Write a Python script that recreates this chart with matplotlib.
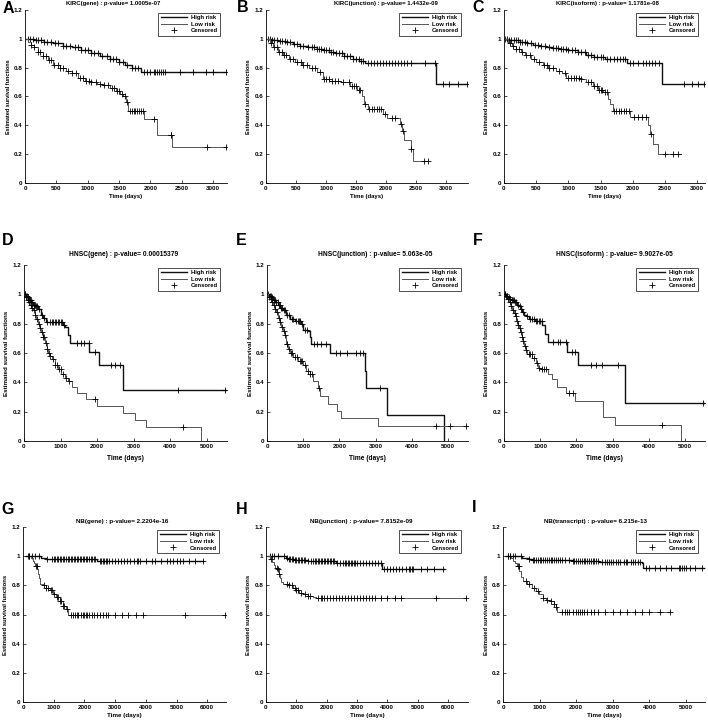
import numpy as np
import matplotlib
matplotlib.use("Agg")
import matplotlib.pyplot as plt
from matplotlib.lines import Line2D

plt.rcParams['font.family'] = ['Liberation Sans', 'DejaVu Sans']
plt.rcParams['font.weight'] = 'bold'

W, H = 708, 724

# ---- panel A : KIRC(gene) ----
A_up_t = [0, 150, 300, 450, 600, 750, 900, 1050, 1200, 1350, 1500, 1600, 1700, 1850]
A_up_s = [1.0, 0.99, 0.98, 0.97, 0.95, 0.94, 0.92, 0.90, 0.88, 0.86, 0.84, 0.82, 0.80, 0.77]
A_up_end = 3220
A_up_c = [40, 80, 120, 170, 210, 260, 300, 350, 420, 480, 520, 600, 660, 720, 800, 850, 900, 960,
          1000, 1050, 1100, 1160, 1220, 1300, 1350, 1400, 1450, 1500, 1560, 1620, 1700, 1750, 1800,
          1890, 1950, 2000, 2050, 2080, 2110, 2140, 2170, 2200, 2230, 2470, 2680, 2890, 3000, 3200]
A_lo_t = [0, 50, 100, 150, 200, 280, 360, 450, 550, 650, 750, 850, 950, 1050, 1150, 1250, 1350,
          1450, 1520, 1570, 1610, 1640, 1900, 2100, 2340]
A_lo_s = [1.0, 0.98, 0.96, 0.94, 0.91, 0.88, 0.85, 0.82, 0.80, 0.78, 0.76, 0.73, 0.71, 0.70, 0.69,
          0.68, 0.66, 0.64, 0.62, 0.60, 0.56, 0.50, 0.445, 0.335, 0.25]
A_lo_end = 3220
A_lo_c = [100, 150, 200, 240, 280, 330, 380, 420, 470, 520, 560, 600, 680, 750, 820, 880, 930, 980,
          1020, 1060, 1130, 1200, 1260, 1320, 1380, 1420, 1470, 1500, 1540, 1590, 1620, 1670, 1700,
          1730, 1760, 1790, 1820, 1850, 1880, 2050, 2320, 2330, 2900, 3200]

# ---- panel B : KIRC(junction) ----
B_up_t = [0, 80, 200, 320, 450, 560, 700, 850, 950, 1050, 1150, 1300, 1450, 1550, 1650, 2830]
B_up_s = [1.0, 0.99, 0.985, 0.98, 0.965, 0.95, 0.94, 0.93, 0.92, 0.91, 0.90, 0.88, 0.86, 0.845, 0.83, 0.69]
B_up_end = 3360
B_up_c = [30, 60, 100, 140, 180, 230, 270, 310, 350, 400, 460, 520, 560, 620, 700, 760, 800, 850,
          880, 920, 960, 1000, 1040, 1080, 1120, 1160, 1220, 1260, 1300, 1350, 1400, 1450, 1500,
          1540, 1580, 1620, 1700, 1750, 1800, 1850, 1900, 1950, 2000, 2050, 2100, 2150, 2200, 2250,
          2300, 2350, 2420, 2640, 2810, 2950, 3050, 3200, 3340]
B_lo_t = [0, 60, 120, 200, 280, 380, 480, 600, 720, 850, 950, 1050, 1250, 1400, 1520, 1590, 1630,
          1700, 1940, 2010, 2230, 2260, 2300, 2410, 2450]
B_lo_s = [1.0, 0.97, 0.94, 0.91, 0.89, 0.86, 0.84, 0.82, 0.80, 0.77, 0.72, 0.71, 0.70, 0.67, 0.645,
          0.60, 0.55, 0.51, 0.48, 0.45, 0.41, 0.36, 0.30, 0.235, 0.155]
B_lo_end = 2700
B_lo_c = [80, 130, 180, 220, 260, 300, 340, 400, 450, 520, 580, 620, 680, 760, 820, 900, 960, 1000,
          1040, 1100, 1150, 1200, 1280, 1380, 1430, 1470, 1500, 1540, 1560, 1640, 1720, 1760, 1800,
          1850, 1880, 1920, 1980, 2100, 2150, 2250, 2280, 2420, 2630, 2700]

# ---- panel C : KIRC(isoform) ----
C_up_t = [0, 60, 150, 250, 350, 450, 550, 650, 750, 850, 1000, 1150, 1280, 1400, 1560, 1910, 2450]
C_up_s = [1.0, 0.995, 0.99, 0.98, 0.97, 0.96, 0.95, 0.945, 0.935, 0.93, 0.92, 0.91, 0.89, 0.875,
          0.86, 0.83, 0.69]
C_up_end = 3120
C_up_c = [20, 50, 80, 110, 150, 180, 210, 250, 280, 320, 360, 420, 480, 520, 580, 640, 700, 760,
          800, 840, 880, 920, 960, 1000, 1050, 1100, 1150, 1200, 1260, 1300, 1350, 1400, 1450, 1500,
          1540, 1600, 1650, 1700, 1750, 1800, 1840, 1880, 1950, 2000, 2080, 2150, 2200, 2250, 2300,
          2350, 2400, 2800, 2920, 3010, 3100]
C_lo_t = [0, 60, 120, 180, 260, 330, 420, 500, 600, 690, 800, 900, 970, 1200, 1280, 1380, 1460,
          1540, 1610, 1640, 1690, 1950, 2230, 2270, 2310, 2395]
C_lo_s = [1.0, 0.97, 0.95, 0.93, 0.91, 0.89, 0.86, 0.84, 0.82, 0.80, 0.78, 0.76, 0.725, 0.72, 0.70,
          0.67, 0.645, 0.63, 0.58, 0.55, 0.50, 0.46, 0.40, 0.34, 0.27, 0.20]
C_lo_end = 2740
C_lo_c = [90, 140, 190, 230, 280, 340, 400, 460, 540, 620, 660, 700, 760, 850, 950, 1000, 1040,
          1080, 1120, 1160, 1200, 1300, 1350, 1400, 1440, 1480, 1500, 1520, 1560, 1600, 1700, 1740,
          1780, 1820, 1860, 1900, 1940, 2020, 2080, 2140, 2200, 2280, 2500, 2620, 2700]

# ---- panel D : HNSC(gene) ----
D_up_t = [0, 50, 100, 150, 200, 250, 300, 380, 470, 520, 610, 1060, 1120, 1190, 1250, 1780, 2060, 2700]
D_up_s = [1.0, 0.99, 0.98, 0.96, 0.95, 0.93, 0.92, 0.90, 0.86, 0.84, 0.81, 0.79, 0.78, 0.72, 0.67,
          0.605, 0.515, 0.345]
D_up_end = 5530
D_up_c = [30, 60, 90, 120, 160, 190, 220, 260, 290, 330, 360, 420, 480, 540, 640, 700, 760, 800,
          840, 880, 920, 960, 1000, 1040, 1080, 1450, 1550, 1650, 1770, 1950, 2380, 2500, 2620, 4200, 5500]
D_lo_t = [0, 40, 80, 120, 160, 200, 250, 300, 340, 380, 430, 470, 520, 570, 620, 660, 710, 760, 840,
          930, 1020, 1110, 1190, 1300, 1440, 1690, 2000, 2710, 3030, 3330, 4850]
D_lo_s = [1.0, 0.98, 0.96, 0.95, 0.93, 0.91, 0.89, 0.86, 0.83, 0.80, 0.77, 0.74, 0.71, 0.67, 0.63,
          0.60, 0.58, 0.56, 0.52, 0.49, 0.46, 0.43, 0.41, 0.37, 0.33, 0.285, 0.24, 0.19, 0.145, 0.095, 0.0]
D_lo_end = 4850
D_lo_c = [20, 60, 100, 140, 180, 220, 270, 310, 350, 400, 450, 490, 530, 560, 590, 630, 680, 720,
          780, 850, 900, 950, 1000, 1060, 1150, 1230, 1950, 4350]

# ---- panel E : HNSC(junction) ----
E_up_t = [0, 60, 120, 170, 230, 300, 370, 440, 530, 630, 760, 950, 995, 1130, 1180, 1225, 1730,
          2705, 2745, 3320, 4900]
E_up_s = [1.0, 0.99, 0.98, 0.96, 0.95, 0.93, 0.91, 0.89, 0.86, 0.83, 0.82, 0.80, 0.76, 0.75, 0.71,
          0.66, 0.60, 0.48, 0.36, 0.18, 0.0]
E_up_end = 4900
E_up_c = [30, 70, 100, 140, 190, 220, 260, 290, 330, 360, 400, 420, 470, 500, 560, 600, 680, 720,
          800, 850, 880, 920, 960, 1050, 1100, 1290, 1390, 1500, 1620, 1915, 2010, 2220, 2450, 2580,
          2650, 3130]
E_lo_t = [0, 40, 80, 130, 170, 210, 250, 300, 350, 400, 440, 490, 530, 580, 630, 720, 860, 1000,
          1090, 1180, 1270, 1410, 1455, 1685, 1935, 2055, 3065]
E_lo_s = [1.0, 0.98, 0.97, 0.95, 0.93, 0.90, 0.88, 0.84, 0.81, 0.78, 0.75, 0.72, 0.66, 0.63, 0.60,
          0.57, 0.545, 0.52, 0.48, 0.455, 0.41, 0.36, 0.31, 0.255, 0.205, 0.155, 0.105]
E_lo_end = 5520
E_lo_c = [50, 100, 150, 200, 230, 270, 320, 370, 420, 460, 510, 540, 560, 600, 650, 700, 760, 820,
          900, 940, 980, 1050, 1120, 1200, 1250, 1430, 4680, 5050, 5500]

# ---- panel F : HNSC(isoform) ----
F_up_t = [0, 50, 100, 150, 200, 280, 350, 410, 460, 510, 560, 600, 690, 850, 1055, 1130, 1220,
          1745, 2045, 3330]
F_up_s = [1.0, 0.99, 0.98, 0.97, 0.96, 0.95, 0.93, 0.92, 0.90, 0.88, 0.86, 0.85, 0.83, 0.82, 0.79,
          0.73, 0.675, 0.605, 0.515, 0.26]
F_up_end = 5510
F_up_c = [20, 60, 90, 130, 170, 210, 240, 270, 300, 330, 380, 430, 480, 530, 640, 720, 780, 830,
          880, 920, 960, 1000, 1040, 1360, 1500, 1560, 1725, 1880, 1955, 2400, 2550, 2700, 3140, 5500]
F_lo_t = [0, 40, 90, 140, 180, 230, 275, 310, 340, 380, 410, 450, 490, 520, 550, 600, 640, 780,
          870, 945, 1010, 1220, 1330, 1470, 1700, 1970, 2725, 3055, 4880]
F_lo_s = [1.0, 0.99, 0.97, 0.95, 0.92, 0.89, 0.87, 0.85, 0.82, 0.79, 0.77, 0.74, 0.71, 0.68, 0.65,
          0.62, 0.59, 0.565, 0.53, 0.50, 0.49, 0.455, 0.42, 0.365, 0.33, 0.275, 0.165, 0.11, 0.0]
F_lo_end = 4880
F_lo_c = [30, 70, 110, 160, 200, 250, 300, 330, 360, 400, 430, 470, 500, 530, 570, 620, 680, 720,
          760, 820, 900, 960, 1050, 1100, 1150, 1800, 1900, 4350]

# ---- panel G : NB(gene) ----
G_up_t = [100, 600, 750, 2400]
G_up_s = [1.0, 0.99, 0.98, 0.97]
G_up_end = 5850
G_up_c = [150, 200, 300, 400, 520, 780, 950, 1000, 1050, 1100, 1150, 1200, 1250, 1300, 1350, 1400,
          1450, 1500, 1550, 1600, 1650, 1700, 1750, 1800, 1850, 1900, 1950, 2000, 2050, 2100, 2150,
          2200, 2250, 2300, 2350, 2500, 2550, 2600, 2650, 2700, 2750, 2800, 2900, 3000, 3100, 3200,
          3300, 3400, 3500, 3600, 3700, 3750, 3800, 4000, 4200, 4300, 4500, 4700, 4800, 4900, 5000,
          5100, 5200, 5400, 5600, 5850]
G_lo_t = [160, 270, 320, 360, 400, 460, 500, 520, 545, 650, 760, 870, 980, 1090, 1200, 1300, 1390, 1470]
G_lo_s = [1.0, 0.99, 0.97, 0.95, 0.93, 0.91, 0.88, 0.85, 0.81, 0.80, 0.785, 0.77, 0.74, 0.72, 0.69,
          0.66, 0.64, 0.60]
G_lo_end = 6600
G_lo_c = [200, 420, 440, 700, 760, 820, 900, 960, 1020, 1100, 1150, 1200, 1250, 1300, 1350, 1420,
          1550, 1620, 1700, 1750, 1800, 1900, 1950, 2000, 2050, 2100, 2150, 2250, 2300, 2400, 2500,
          2600, 2700, 2770, 2990, 3220, 3430, 3670, 3910, 5280, 6580]

# ---- panel H : NB(junction) ----
H_up_t = [80, 650, 720, 940, 1380, 1650, 2300, 2750, 3830]
H_up_s = [1.0, 0.99, 0.98, 0.975, 0.97, 0.965, 0.955, 0.95, 0.915]
H_up_end = 5880
H_up_c = [120, 200, 280, 380, 600, 700, 750, 800, 850, 900, 950, 1000, 1050, 1100, 1150, 1200, 1250,
          1300, 1400, 1500, 1550, 1600, 1650, 1700, 1750, 1800, 1850, 1900, 1950, 2000, 2050, 2100,
          2150, 2200, 2250, 2350, 2450, 2550, 2600, 2650, 2700, 2750, 2800, 2850, 2900, 2950, 3000,
          3100, 3200, 3300, 3400, 3500, 3600, 3700, 3800, 3900, 4000, 4100, 4200, 4300, 4400, 4500,
          4600, 4700, 4750, 4800, 4850, 5100, 5300, 5550, 5850]
H_lo_t = [80, 140, 200, 250, 310, 360, 420, 460, 510, 550, 720, 880, 990, 1100, 1210, 1380, 1540, 1650]
H_lo_s = [1.0, 0.98, 0.96, 0.94, 0.92, 0.91, 0.88, 0.85, 0.82, 0.81, 0.80, 0.78, 0.77, 0.75, 0.74,
          0.73, 0.72, 0.71]
H_lo_end = 6600
H_lo_c = [180, 350, 380, 420, 680, 760, 850, 950, 1000, 1060, 1150, 1300, 1400, 1450, 1700, 1800,
          1850, 1900, 2000, 2100, 2200, 2300, 2400, 2500, 2600, 2700, 2800, 2900, 3000, 3100, 3200,
          3300, 3400, 3500, 3600, 3800, 4000, 4250, 4450, 5600, 6600]

# ---- panel I : NB(transcript) ----
I_up_t = [90, 520, 700, 800, 1900, 2400, 2620, 3790, 3830]
I_up_s = [1.0, 0.99, 0.98, 0.975, 0.97, 0.965, 0.96, 0.95, 0.92]
I_up_end = 5500
I_up_c = [130, 200, 260, 320, 500, 700, 820, 860, 900, 950, 1000, 1050, 1100, 1150, 1200, 1250,
          1300, 1350, 1400, 1450, 1500, 1550, 1600, 1700, 1800, 1900, 1950, 2000, 2050, 2100, 2150,
          2200, 2250, 2300, 2350, 2400, 2450, 2500, 2550, 2600, 2700, 2800, 2850, 2900, 2950, 3000,
          3100, 3150, 3200, 3300, 3350, 3400, 3500, 3550, 3600, 3700, 3750, 3900, 4000, 4150, 4300,
          4450, 4600, 4800, 4850, 4900, 4950, 5000, 5100, 5250, 5450]
I_lo_t = [90, 230, 270, 340, 380, 450, 500, 540, 660, 800, 890, 980, 1090, 1180, 1300, 1390, 1435, 1480]
I_lo_s = [1.0, 0.99, 0.97, 0.95, 0.93, 0.90, 0.86, 0.83, 0.81, 0.78, 0.76, 0.74, 0.71, 0.70, 0.69,
          0.67, 0.65, 0.62]
I_lo_end = 4560
I_lo_c = [150, 200, 400, 440, 620, 700, 850, 950, 1100, 1200, 1300, 1400, 1450, 1600, 1700, 1750,
          1800, 1900, 2000, 2050, 2100, 2150, 2200, 2300, 2400, 2500, 2600, 2800, 3000, 3200, 3400,
          3600, 3800, 4000, 4300, 4550]

titles = ["KIRC(gene) : p-value= 1.0005e-07", "KIRC(junction) : p-value= 1.4432e-09",
          "KIRC(isoform) : p-value= 1.1781e-08", "HNSC(gene) : p-value= 0.00015379",
          "HNSC(junction) : p-value= 5.063e-05", "HNSC(isoform) : p-value= 9.9027e-05",
          "NB(gene) : p-value= 2.2204e-16", "NB(junction) : p-value= 7.8152e-09",
          "NB(transcript) : p-value= 6.215e-13"]
letters = list("ABCDEFGHI")

curves = [
    (A_up_t, A_up_s, A_up_end, A_up_c, A_lo_t, A_lo_s, A_lo_end, A_lo_c),
    (B_up_t, B_up_s, B_up_end, B_up_c, B_lo_t, B_lo_s, B_lo_end, B_lo_c),
    (C_up_t, C_up_s, C_up_end, C_up_c, C_lo_t, C_lo_s, C_lo_end, C_lo_c),
    (D_up_t, D_up_s, D_up_end, D_up_c, D_lo_t, D_lo_s, D_lo_end, D_lo_c),
    (E_up_t, E_up_s, E_up_end, E_up_c, E_lo_t, E_lo_s, E_lo_end, E_lo_c),
    (F_up_t, F_up_s, F_up_end, F_up_c, F_lo_t, F_lo_s, F_lo_end, F_lo_c),
    (G_up_t, G_up_s, G_up_end, G_up_c, G_lo_t, G_lo_s, G_lo_end, G_lo_c),
    (H_up_t, H_up_s, H_up_end, H_up_c, H_lo_t, H_lo_s, H_lo_end, H_lo_c),
    (I_up_t, I_up_s, I_up_end, I_up_c, I_lo_t, I_lo_s, I_lo_end, I_lo_c),
]

# layout in pixels: (x0, x1, ytop, ybot, xmax, xtick step, xtick max)
boxes = [
    (25, 227, 10, 183, 3220, 500, 3000),
    (266, 468, 10, 183, 3360, 500, 3000),
    (504, 705, 10, 183, 3120, 500, 3000),
    (24, 227, 265, 441, 5550, 1000, 5000),
    (267, 468, 265, 441, 5550, 1000, 5000),
    (504, 705, 265, 441, 5550, 1000, 5000),
    (23, 226, 527, 702, 6610, 1000, 6000),
    (266, 468, 527, 702, 6660, 1000, 6000),
    (503, 705, 527, 702, 5520, 1000, 5000),
]
title_pos = [(113, 4), (386, 4), (607, 4), (124, 254), (375, 254), (614, 254),
             (122, 522), (361, 522), (595, 522)]
letter_pos = [(8.5, 8.5), (243, 8), (478, 8), (8, 240), (241, 240), (478, 240),
              (8, 509), (242, 510), (474, 508)]
row_font = [4.3, 4.3, 4.3, 4.8, 4.8, 4.8, 4.5, 4.5, 4.5]
xlab_gap = [11, 11, 11, 13.5, 13.5, 13.5, 11.5, 11.5, 11.5]

UP_COLOR, LO_COLOR = '#111111', '#555555'


def km(ax, t, s, end, cens, color, lw):
    x = list(t) + [end]
    y = list(s) + [s[-1]]
    ax.step(x, y, where='post', color=color, lw=lw)
    idx = np.searchsorted(t, cens, side='right') - 1
    ax.plot(cens, np.array(s)[idx], '+', color='k', ms=4, mew=0.6, ls='none')


fig = plt.figure(figsize=(W / 100, H / 100), dpi=100, facecolor='white')

for i, (c, b) in enumerate(zip(curves, boxes)):
    x0, x1, yt, yb, xmax, step, tmax = b
    fs = row_font[i]
    ax = fig.add_axes([x0 / W, 1 - yb / H, (x1 - x0) / W, (yb - yt) / H])
    km(ax, c[0], c[1], c[2], c[3], UP_COLOR, 1.0)
    km(ax, c[4], c[5], c[6], c[7], LO_COLOR, 0.7)
    ax.set_xlim(0, xmax)
    ax.set_ylim(0, 1.2)
    ax.set_xticks(np.arange(0, tmax + 1, step))
    ax.set_yticks([0, 0.2, 0.4, 0.6, 0.8, 1.0, 1.2])
    ax.set_yticklabels(['0', '0.2', '0.4', '0.6', '0.8', '1', '1.2'])
    for sp in ['top', 'right']:
        ax.spines[sp].set_visible(False)
    for sp in ['left', 'bottom']:
        ax.spines[sp].set_linewidth(0.6)
    ax.tick_params(direction='in', length=2, width=0.5, labelsize=4.5, pad=2)
    ax.set_xlabel('Time (days)', fontsize=fs, fontweight='bold')
    ax.set_ylabel('Estimated survival functions', fontsize=fs - 0.3, fontweight='bold')
    h = yb - yt
    ax.xaxis.set_label_coords(0.5, -(xlab_gap[i] / h))
    ax.yaxis.set_label_coords(-(14.5 / (x1 - x0)), 0.5)

    handles = [Line2D([], [], color=UP_COLOR, lw=1.0),
               Line2D([], [], color=LO_COLOR, lw=0.7),
               Line2D([], [], color='k', marker='+', ls='none', ms=4, mew=0.6)]
    leg = ax.legend(handles, ['High risk', 'Low risk', 'Censored'], loc='upper right',
                    bbox_to_anchor=(1 - 7 / (x1 - x0), 1 - 3 / h), fontsize=4.2,
                    frameon=True, fancybox=False, edgecolor='k', borderpad=0.4,
                    handlelength=4.5, labelspacing=0.25, handletextpad=0.6, borderaxespad=0)
    leg.get_frame().set_linewidth(0.6)

    tx, ty = title_pos[i]
    fig.text(tx / W, 1 - ty / H, titles[i], ha='center', va='center', fontsize=fs, fontweight='bold')
    lx, ly = letter_pos[i]
    fig.text(lx / W, 1 - ly / H, letters[i], ha='center', va='center', fontsize=11.5, fontweight='bold')

fig.savefig('out.png', dpi=100, facecolor='white')
